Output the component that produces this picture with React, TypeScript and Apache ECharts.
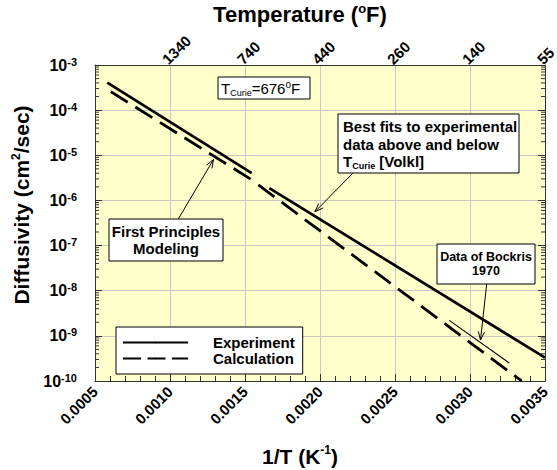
import React, { useEffect, useRef } from 'react';
import * as echarts from 'echarts';

const FONT = '"Liberation Sans", Arial, Helvetica, sans-serif';

// ---- data ----
const xTicks = [0.0005, 0.001, 0.0015, 0.002, 0.0025, 0.003, 0.0035];
const topTempLabelsF = ['', '1340', '740', '440', '260', '140', '55'];
const yMin = 1e-10;
const yMax = 1e-3;

const expAboveX = [0.000582, 0.001545];
const expAboveD = [4.07e-4, 4.02e-6];
const expBelowX = [0.001662, 0.0035];
const expBelowD = [1.87e-6, 3.3e-10];
const calcAboveX = [0.000605, 0.001545];
const calcAboveD = [2.57e-4, 2.86e-6];
const calcBelowX = [0.001589, 0.003345];
const calcBelowD = [2.21e-6, 1.0e-10];
const bockrisX = [0.002862, 0.003262];
const bockrisD = [2.2e-9, 2.5e-10];
const curieInvT = 0.001585; // 676 °F

const pairs = (xs: number[], ys: number[]) => xs.map((x, i) => [x, ys[i]]);

// log minor tick positions (2..9 x 10^n)
const minorTickVals: number[] = [];
for (let e = -10; e < -3; e++) for (let k = 2; k <= 9; k++) minorTickVals.push(k * Math.pow(10, e));

function arrowEls(x1: number, y1: number, x2: number, y2: number) {
  const ang = Math.atan2(y2 - y1, x2 - x1);
  const L = 9, W = 0.36;
  const p1 = [x2 - L * Math.cos(ang - W), y2 - L * Math.sin(ang - W)];
  const p2 = [x2 - L * Math.cos(ang + W), y2 - L * Math.sin(ang + W)];
  return [
    { type: 'line', z: 100, shape: { x1, y1, x2, y2 }, style: { stroke: '#000', lineWidth: 1 } },
    { type: 'polyline', z: 100, shape: { points: [p1, [x2, y2], p2] }, style: { stroke: '#000', lineWidth: 1, fill: null } },
  ];
}

function boxEl(x: number, y: number, w: number, h: number) {
  return { type: 'rect', z: 100, shape: { x, y, width: w, height: h }, style: { fill: '#fff', stroke: '#000', lineWidth: 1 } };
}

const supRich = (size: number, sup: number, lh: number) => ({
  t: { fontFamily: FONT, fontWeight: 'bold', fontSize: size, color: '#000', lineHeight: lh },
  s: { fontFamily: FONT, fontWeight: 'bold', fontSize: sup, color: '#000', verticalAlign: 'top', lineHeight: sup },
});

export default function App() {
  const ref = useRef<HTMLDivElement>(null);
  useEffect(() => {
    document.body.style.margin = '0';
    if (!ref.current) return;
    const chart = echarts.init(ref.current, null, { renderer: 'svg' });

    const graphic: any[] = [
      // T Curie label
      boxEl(218, 77, 92, 22),
      {
        type: 'text', z: 101,
        style: {
          x: 221, y: 88, text: '{t|T}{b|Curie}{t|=676}{s|o}{t|F}',
          align: 'left', verticalAlign: 'middle', textAlign: 'left', textVerticalAlign: 'middle',
          rich: {
            t: { fontFamily: FONT, fontSize: 15, color: '#000', lineHeight: 18 },
            b: { fontFamily: FONT, fontSize: 9, color: '#000', verticalAlign: 'bottom', lineHeight: 10 },
            s: { fontFamily: FONT, fontSize: 10, color: '#000', verticalAlign: 'top', lineHeight: 10 },
          },
        },
      },
      // Best fits box
      boxEl(338, 114, 181, 59),
      {
        type: 'text', z: 101,
        style: {
          x: 343, y: 118,
          text: '{t|Best fits to experimental}\n{t|data above and below}\n{t|T}{b|Curie}{t| [Volkl]}',
          align: 'left', verticalAlign: 'top', textAlign: 'left', textVerticalAlign: 'top',
          rich: {
            t: { fontFamily: FONT, fontWeight: 'bold', fontSize: 15, color: '#000', lineHeight: 17.5 },
            b: { fontFamily: FONT, fontWeight: 'bold', fontSize: 9, color: '#000', verticalAlign: 'bottom', lineHeight: 11 },
          },
        },
      },
      ...arrowEls(353, 173, 315, 211.7),
      // First principles box
      boxEl(109, 219, 114, 42),
      {
        type: 'text', z: 101,
        style: {
          x: 166, y: 240, text: 'First Principles\nModeling',
          align: 'center', verticalAlign: 'middle', textAlign: 'center', textVerticalAlign: 'middle',
          fontFamily: FONT, fontWeight: 'bold', fontSize: 15, lineHeight: 16.6, fill: '#000',
        },
      },
      ...arrowEls(178.3, 219, 213.5, 159.5),
      // Bockris box
      boxEl(437, 244, 98, 40),
      {
        type: 'text', z: 101,
        style: {
          x: 486, y: 264, text: 'Data of Bockris\n1970',
          align: 'center', verticalAlign: 'middle', textAlign: 'center', textVerticalAlign: 'middle',
          fontFamily: FONT, fontWeight: 'bold', fontSize: 12.5, lineHeight: 13.5, fill: '#000',
        },
      },
      ...arrowEls(486.7, 284, 480.5, 340),
    ];

    const option: any = {
      animation: false,
      backgroundColor: '#fff',
      textStyle: { fontFamily: FONT },
      grid: {
        left: 95, right: 12, top: 65, bottom: 89,
        show: true, backgroundColor: '#FFFFCC', borderWidth: 0,
        containLabel: false, outerBoundsMode: 'none',
      },
      legend: {
        data: [
          { name: 'Experiment' },
          { name: 'Calculation', lineStyle: { type: [18, 6.5] } },
        ],
        orient: 'vertical', left: 116, top: 327,
        itemWidth: 65, itemHeight: 2, itemGap: 1,
        padding: [8, 8, 8, 6],
        backgroundColor: '#fff', borderColor: '#000', borderWidth: 1, borderRadius: 0,
        textStyle: { fontFamily: FONT, fontSize: 15, fontWeight: 'bold', color: '#000', padding: [0, 0, 0, 20], lineHeight: 14 },
        selectedMode: false,
      },
      xAxis: [
        {
          type: 'value', position: 'bottom',
          min: xTicks[0], max: xTicks[xTicks.length - 1], interval: 0.0005,
          name: '{t|1/T (K}{s|-1}{t|)}',
          nameLocation: 'middle', nameGap: 63,
          nameTextStyle: { padding: [0, 40, 0, 0], rich: supRich(21, 12, 24) },
          axisLine: { show: true, onZero: false, lineStyle: { color: '#333', width: 1 } },
          axisTick: { show: true, inside: true, length: 7, lineStyle: { color: '#333' } },
          minorTick: { show: true, splitNumber: 5, length: 5, lineStyle: { color: '#333' } },
          splitLine: { show: true, lineStyle: { color: '#c8c8c8', width: 1 } },
          axisLabel: {
            rotate: 45, margin: 8, fontFamily: FONT, fontSize: 15, fontWeight: 'bold', color: '#000',
            formatter: (v: number) => v.toFixed(4),
          },
        },
        {
          type: 'value', position: 'top',
          min: xTicks[0], max: xTicks[xTicks.length - 1], interval: 0.0005,
          name: '{t|Temperature (}{s|o}{t|F)}',
          nameLocation: 'middle', nameGap: 37,
          nameTextStyle: { padding: [0, 40, 0, 0], rich: supRich(22, 13, 26) },
          axisLine: { show: true, onZero: false, lineStyle: { color: '#333', width: 1 } },
          axisTick: { show: false },
          splitLine: { show: false },
          axisLabel: {
            rotate: -45, margin: -2, verticalAlign: 'bottom',
            fontFamily: FONT, fontSize: 15, fontWeight: 'bold', color: '#000',
            formatter: (v: number) => {
              const i = Math.round((v - xTicks[0]) / 0.0005);
              return topTempLabelsF[i] ?? '';
            },
          },
        },
      ],
      yAxis: [
        {
          type: 'log', logBase: 10, min: yMin, max: yMax, splitNumber: 7, position: 'left',
          name: '{t|Diffusivity (cm}{s|2}{t|/sec)}',
          nameLocation: 'middle', nameGap: 60,
          nameTextStyle: { padding: [0, 0, 0, 36], rich: supRich(21, 12, 24) },
          axisLine: { show: true, onZero: false, lineStyle: { color: '#333', width: 1 } },
          axisTick: { show: true, inside: true, length: 7, lineStyle: { color: '#333' } },
          splitLine: { show: true, lineStyle: { color: '#c8c8c8', width: 1 } },
          axisLabel: {
            margin: 18,
            formatter: (v: number) => `{t|10}{s|${Math.round(Math.log10(v))}}`,
            rich: supRich(16, 11, 18),
          },
        },
        {
          type: 'log', logBase: 10, min: yMin, max: yMax, splitNumber: 7, position: 'right',
          axisLine: { show: true, onZero: false, lineStyle: { color: '#333', width: 1 } },
          axisTick: { show: true, inside: true, length: 7, lineStyle: { color: '#333' } },
          splitLine: { show: false },
          axisLabel: { show: false },
        },
      ],
      series: [
        {
          type: 'line', name: 'Experiment', data: pairs(expAboveX, expAboveD), symbol: 'none',
          lineStyle: { color: '#000', width: 2.7, type: 'solid' }, itemStyle: { color: '#000' }, z: 5,
        },
        {
          type: 'line', name: 'Experiment', data: pairs(expBelowX, expBelowD), symbol: 'none',
          lineStyle: { color: '#000', width: 2.7, type: 'solid' }, itemStyle: { color: '#000' }, z: 5,
        },
        {
          type: 'line', name: 'Calculation', data: pairs(calcAboveX, calcAboveD), symbol: 'none',
          lineStyle: { color: '#000', width: 2.8, type: [20, 9] }, itemStyle: { color: '#000' }, z: 5,
        },
        {
          type: 'line', name: 'Calculation', data: pairs(calcBelowX, calcBelowD), symbol: 'none',
          lineStyle: { color: '#000', width: 2.8, type: [20, 9] }, itemStyle: { color: '#000' }, z: 5,
        },
        {
          type: 'line', name: 'Bockris 1970', data: pairs(bockrisX, bockrisD), symbol: 'none',
          lineStyle: { color: '#000', width: 1.1, type: 'solid' }, itemStyle: { color: '#000' }, z: 5,
          markLine: {
            silent: true, symbol: 'none', label: { show: false },
            lineStyle: { color: '#000', width: 1, type: 'solid' },
            data: [{ xAxis: curieInvT }],
          },
        },
        {
          type: 'custom', name: 'minorTicks', silent: true, clip: false, z: 4,
          data: minorTickVals.map((v) => [xTicks[0], v]),
          encode: { x: 0, y: 1 },
          renderItem: (_p: any, api: any) => {
            const v = api.value(1);
            const pL = api.coord([xTicks[0], v]);
            const pR = api.coord([xTicks[xTicks.length - 1], v]);
            return {
              type: 'group',
              children: [
                { type: 'line', shape: { x1: pL[0], y1: pL[1], x2: pL[0] + 4, y2: pL[1] }, style: { stroke: '#333', lineWidth: 1 } },
                { type: 'line', shape: { x1: pR[0] - 4, y1: pR[1], x2: pR[0], y2: pR[1] }, style: { stroke: '#333', lineWidth: 1 } },
              ],
            };
          },
        },
      ],
      graphic,
    };
    chart.setOption(option);
    return () => chart.dispose();
  }, []);
  return <div ref={ref} style={{ width: 557, height: 470 }} />;
}
